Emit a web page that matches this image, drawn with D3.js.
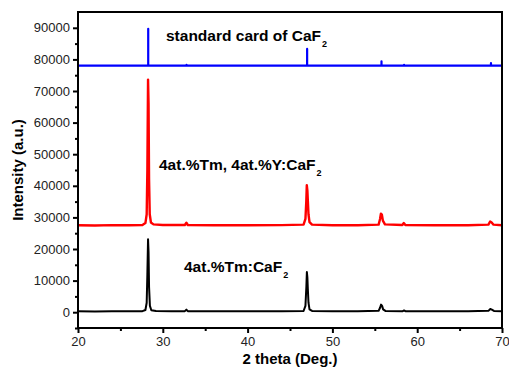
<!DOCTYPE html>
<html>
<head>
<meta charset="utf-8">
<script src="https://cdn.jsdelivr.net/npm/d3@7"></script>
<style>
  body { margin: 0; background: #fff; }
  svg text { font-family: Arial, "Liberation Sans", sans-serif; }
</style>
</head>
<body>
<div id="chart"></div>
<script>
// ---- DATA (2 theta, intensity) ----
var standardCard = [
  [20, 78000], [28.28, 78000], [28.28, 89700], [28.28, 78000],
  [32.8, 78000], [32.8, 78250], [32.8, 78000],
  [47.02, 78000], [47.02, 83300], [47.02, 78000],
  [55.79, 78000], [55.79, 79400], [55.79, 78000],
  [58.45, 78000], [58.45, 78250], [58.45, 78000],
  [68.7, 78000], [68.7, 78850], [68.7, 78000], [70, 78000]
];

var tmYCaF2 = [
  [20, 27500], [22, 27450], [24, 27550], [26, 27500], [27.6, 27600], [27.95, 28200],
  [28.1, 31000], [28.18, 45000], [28.26, 73600], [28.32, 66000], [28.38, 42000],
  [28.46, 31000], [28.6, 28400], [28.9, 27800], [30, 27600], [32.6, 27600],
  [32.78, 28300], [32.95, 27600], [36, 27500], [40, 27500], [44, 27550],
  [46.6, 27700], [46.82, 29500], [46.92, 35000], [46.98, 40200], [47.05, 38500],
  [47.1, 35500], [47.18, 31000], [47.3, 28500], [47.6, 27700], [50, 27500],
  [53, 27500], [55.45, 27700], [55.62, 29500], [55.72, 31200], [55.84, 30800],
  [55.95, 29000], [56.2, 27800], [58.25, 27600], [58.42, 28200], [58.6, 27600],
  [62, 27500], [66, 27500], [68.4, 27700], [68.6, 28700], [68.78, 28400],
  [69, 27700], [70, 27500]
];

var tmCaF2 = [
  [20, 300], [22, 250], [24, 320], [26, 280], [27.6, 330], [27.95, 700],
  [28.1, 3000], [28.18, 12000], [28.26, 23100], [28.32, 19000], [28.38, 8000],
  [28.48, 2000], [28.65, 600], [29.2, 350], [31, 300], [32.6, 330],
  [32.78, 800], [32.95, 330], [35, 300], [40, 280], [44, 300],
  [46.6, 380], [46.82, 2000], [46.93, 8000], [46.99, 12700], [47.05, 11000],
  [47.1, 7500], [47.18, 3000], [47.3, 900], [47.6, 400], [50, 300],
  [53, 300], [55.45, 420], [55.62, 1400], [55.74, 2400], [55.86, 2000],
  [55.98, 900], [56.25, 400], [58.3, 320], [58.45, 550], [58.6, 320],
  [62, 300], [66, 300], [68.4, 420], [68.62, 1000], [68.8, 800],
  [69.05, 400], [70, 300]
];

var seriesColors = ["#0000ff", "#ff0000", "#000000"];
var seriesLabels = ["standard card of CaF", "4at.%Tm, 4at.%Y:CaF", "4at.%Tm:CaF"];
var xTicks = [20, 30, 40, 50, 60, 70];
var xMinor = [25, 35, 45, 55, 65];
var yTicks = [0, 10000, 20000, 30000, 40000, 50000, 60000, 70000, 80000, 90000];
var yMinor = [-5000, 5000, 15000, 25000, 35000, 45000, 55000, 65000, 75000, 85000];

// ---- LAYOUT ----
var width = 509, height = 370,
    margin = {left: 78, top: 12, right: 7, bottom: 42};

var svg = d3.select("#chart").append("svg")
    .attr("width", width)
    .attr("height", height);

var xScale = d3.scaleLinear()
    .domain([20, 70])
    .range([margin.left, width - margin.right]);

var yScale = d3.scaleLinear()
    .domain([-5000, 95000])
    .range([height - margin.bottom, margin.top]);

var line = d3.line()
    .x(function(d){ return xScale(d[0]); })
    .y(function(d){ return yScale(d[1]); });

// curves
var allSeries = [standardCard, tmYCaF2, tmCaF2];
var widths = [2.2, 2.4, 2];
allSeries.forEach(function(s, i){
  svg.append("path")
    .datum(s)
    .attr("fill", "none")
    .attr("stroke", seriesColors[i])
    .attr("stroke-width", widths[i])
    .attr("stroke-linejoin", "round")
    .attr("d", line);
});

// frame
svg.append("rect")
  .attr("x", margin.left)
  .attr("y", margin.top)
  .attr("width", width - margin.left - margin.right)
  .attr("height", height - margin.top - margin.bottom)
  .attr("fill", "none")
  .attr("stroke", "#000")
  .attr("stroke-width", 2);

// axes
var xAxis = d3.axisBottom(xScale).tickValues(xTicks).tickSize(5).tickPadding(4);
var xAxisMinor = d3.axisBottom(xScale).tickValues(xMinor).tickSize(3).tickFormat("");
var yAxis = d3.axisLeft(yScale).tickValues(yTicks).tickSize(5).tickPadding(3).tickFormat(d3.format("d"));
var yAxisMinor = d3.axisLeft(yScale).tickValues(yMinor).tickSize(3).tickFormat("");

[xAxis, xAxisMinor].forEach(function(ax){
  var g = svg.append("g")
    .attr("transform", "translate(0," + (height - margin.bottom) + ")")
    .call(ax);
  g.select(".domain").remove();
  g.selectAll("line").attr("stroke-width", 2);
  g.selectAll("text").attr("font-size", 13).attr("fill", "#222");
});

[yAxis, yAxisMinor].forEach(function(ax){
  var g = svg.append("g")
    .attr("transform", "translate(" + margin.left + ",0)")
    .call(ax);
  g.select(".domain").remove();
  g.selectAll("line").attr("stroke-width", 2);
  g.selectAll("text").attr("font-size", 13).attr("fill", "#222");
});

// axis titles
svg.append("text")
  .attr("x", xScale(45))
  .attr("y", 364)
  .attr("text-anchor", "middle")
  .attr("font-size", 15)
  .attr("font-weight", "bold")
  .text("2 theta (Deg.)");

svg.append("text")
  .attr("transform", "translate(23," + yScale(45000) + ") rotate(-90)")
  .attr("text-anchor", "middle")
  .attr("font-size", 15)
  .attr("font-weight", "bold")
  .text("Intensity (a.u.)");

// series labels with subscript 2
var labelPos = [[166, 41], [159, 170], [184, 272]];
seriesLabels.forEach(function(t, i){
  var txt = svg.append("text")
    .attr("x", labelPos[i][0])
    .attr("y", labelPos[i][1])
    .attr("font-size", 15.5)
    .attr("font-weight", "bold")
    .text(t);
  txt.append("tspan")
    .attr("dx", 1)
    .attr("dy", 6)
    .attr("font-size", 9)
    .text("2");
});
</script>
</body>
</html>
